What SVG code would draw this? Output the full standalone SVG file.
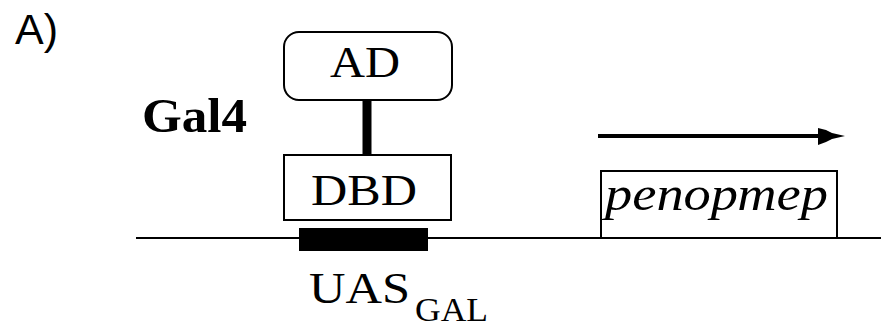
<svg xmlns="http://www.w3.org/2000/svg" width="881" height="327" viewBox="0 0 881 327">
  <style>
    .serif { font-family: "Liberation Serif", "Times New Roman", serif; fill: #000; }
    .box { fill: #fff; stroke: #000; stroke-width: 2; }
  </style>
  <rect width="881" height="327" fill="#fff"/>

  <!-- panel label -->
  <text x="15" y="44" font-family="Liberation Sans, Arial, sans-serif" font-size="43" fill="#000">A)</text>

  <!-- DNA strand -->
  <g id="dna">
    <line x1="136" y1="238" x2="881" y2="238" stroke="#000" stroke-width="2"/>
  </g>

  <!-- connectors -->
  <g id="connectors">
    <line x1="367" y1="100" x2="367" y2="154" stroke="#000" stroke-width="9"/>
    <line x1="598" y1="136" x2="820" y2="136" stroke="#000" stroke-width="4"/>
    <polygon points="818,128 826,130 832,133 845,136 832,139 826,142 818,145" fill="#000"/>
  </g>

  <g id="gal4-label">
    <text class="serif" x="142" y="132" font-size="48" font-weight="bold" textLength="105" lengthAdjust="spacingAndGlyphs">Gal4</text>
  </g>

  <g id="ad">
    <rect class="box" x="284" y="32" width="168" height="68" rx="15" ry="15"/>
    <text class="serif" x="330" y="77" font-size="45" textLength="70" lengthAdjust="spacingAndGlyphs">AD</text>
  </g>

  <g id="dbd">
    <rect class="box" x="284" y="155" width="167" height="65"/>
    <text class="serif" x="311" y="205" font-size="45" textLength="106" lengthAdjust="spacingAndGlyphs">DBD</text>
  </g>

  <g id="uas">
    <rect x="299" y="228" width="129" height="23" fill="#000"/>
    <text class="serif" x="309" y="303" font-size="45" textLength="101" lengthAdjust="spacingAndGlyphs">UAS</text>
    <text class="serif" x="415" y="321" font-size="34" textLength="73" lengthAdjust="spacingAndGlyphs">GAL</text>
  </g>

  <g id="reporter">
    <rect class="box" x="601" y="171" width="236" height="67"/>
    <text class="serif" x="605" y="210" font-size="48" font-style="italic" textLength="223" lengthAdjust="spacingAndGlyphs">репортер</text>
  </g>
</svg>
